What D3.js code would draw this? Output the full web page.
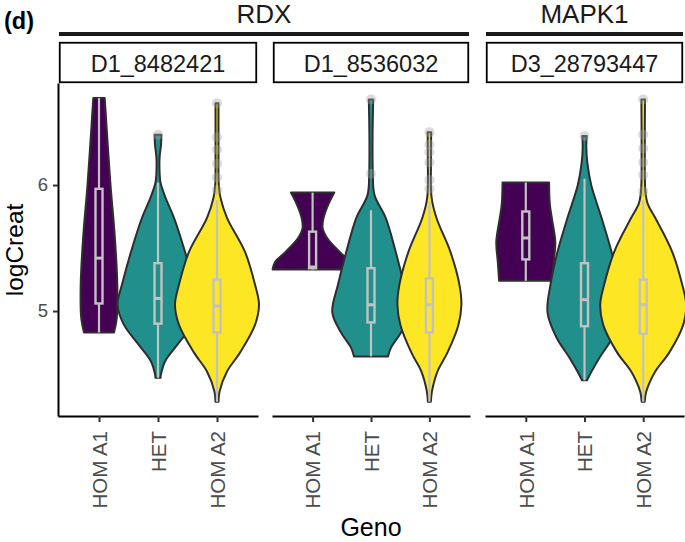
<!DOCTYPE html>
<html><head><meta charset="utf-8">
<script src="https://cdn.jsdelivr.net/npm/d3@7"></script>
<style>body{margin:0;background:#fff}svg{display:block}text{font-family:"Liberation Sans",Arial,sans-serif}</style>
</head><body><svg id="c" width="685" height="542"></svg>
<script>
// ---------- data ----------
const genes = ["RDX", "MAPK1"];
const snps = ["D1_8482421", "D1_8536032", "D3_28793447"];
const snpGene = ["RDX", "RDX", "MAPK1"];
const genos = ["HOM A1", "HET", "HOM A2"];
const genoColors = ["#440154", "#21908C", "#FDE725"];
const yTicks = [5, 6];

// violin density profiles: [logCreat, density] (top to bottom)
const dens_s1_A1 = [[6.69,5.7],[6.35,8.5],[6.0,11.5],[5.6,15.7],[5.21,18.3],[4.94,17.7],[4.83,15]];
const dens_s1_HET = [[6.40,3.4],[6.32,3.0],[6.22,1.6],[6.1,1.6],[6.02,2.5],[5.9,7.5],[5.74,16],[5.47,27],[5.21,36],[5.05,40.5],[4.89,34],[4.73,19],[4.60,7],[4.50,3],[4.47,2.5]];
const dens_s1_A2 = [[6.65,1.5],[6.3,1.5],[6.0,1.8],[5.90,3.5],[5.74,10],[5.47,28],[5.21,38],[5.05,42],[4.89,38],[4.67,23],[4.52,10],[4.36,2.5],[4.28,1.5]];
const dens_s2_A1 = [[5.94,21.7],[5.85,16],[5.74,11],[5.66,10],[5.58,14.5],[5.47,27],[5.39,37.5],[5.33,40]];
const dens_s2_HET = [[6.68,2.2],[6.4,1.6],[6.1,1.8],[5.92,3.5],[5.74,14.7],[5.47,24.7],[5.21,33],[4.99,38.7],[4.83,30],[4.71,20],[4.64,17]];
const dens_s2_A2 = [[6.42,1.8],[6.2,1.6],[5.90,2.2],[5.74,7],[5.47,21],[5.21,30],[5.05,32],[4.89,29],[4.67,18],[4.52,8],[4.36,2.5],[4.28,1.5]];
const dens_s3_A1 = [[6.02,23.3],[5.85,24],[5.74,26],[5.55,29.5],[5.39,28],[5.24,26.7]];
const dens_s3_HET = [[6.39,2.2],[6.3,1.8],[6.18,2.8],[6.0,6.7],[5.74,17],[5.47,27],[5.21,34],[4.99,37],[4.79,28],[4.63,15],[4.52,7],[4.45,2.5]];
const dens_s3_A2 = [[6.68,1.8],[6.3,1.6],[5.95,2.2],[5.85,4.5],[5.74,12],[5.47,29],[5.21,39],[5.05,43],[4.89,40],[4.67,26],[4.52,12],[4.36,3],[4.28,1.5]];

// box stats: [whiskerLow, q1, median, q3, whiskerHigh]
const box_s1 = [[4.83,5.06,5.42,5.97,6.69],[4.47,4.90,5.10,5.38,6.02],[4.28,4.83,5.04,5.25,5.88]];
const box_s2 = [[5.33,5.34,5.35,5.63,5.94],[4.64,4.91,5.05,5.34,5.80],[4.28,4.83,5.05,5.26,5.87]];
const box_s3 = [[5.24,5.41,5.58,5.79,6.02],[4.45,4.88,5.09,5.38,6.05],[4.28,4.82,5.05,5.25,5.88]];

// outliers
const out_s1 = [[],[6.40],[6.65,6.38,6.28,6.17,6.06,5.96]];
const out_s2 = [[],[6.68,6.09],[6.42,6.32,6.26,6.18,6.04,5.97]];
const out_s3 = [[],[6.39],[6.68,6.40,6.29,6.18,6.08,5.95]];

const densities = [[dens_s1_A1,dens_s1_HET,dens_s1_A2],[dens_s2_A1,dens_s2_HET,dens_s2_A2],[dens_s3_A1,dens_s3_HET,dens_s3_A2]];
const boxes = [box_s1, box_s2, box_s3];
const outliers = [out_s1, out_s2, out_s3];

// ---------- layout ----------
const svg = d3.select("#c");
const panelX = [[58,258],[272,470],[485,684]];
const plotTop = 83, plotBottom = 416;
const y = d3.scaleLinear().domain([4.167, 6.81]).range([plotBottom, plotTop]);
const wScale = d3.scaleLinear().domain([0, 43]).range([0, 43]);
const color = d3.scaleOrdinal().domain(genos).range(genoColors);
const boxHalf = 3.5;
const boxGrey = "#c2c2c2";

// title "(d)"
svg.append("text").attr("x",4).attr("y",28.5).attr("font-size",23.5).attr("font-weight","bold").text("(d)");

// gene headers
genes.forEach(g => {
  const idx = snpGene.map((s,i)=>s===g?i:-1).filter(i=>i>=0);
  const x0 = panelX[idx[0]][0]+1, x1 = panelX[idx[idx.length-1]][1]-1;
  svg.append("rect").attr("x",x0).attr("y",32).attr("width",x1-x0).attr("height",4).attr("fill","#1a1a1a");
  svg.append("text").attr("x",(x0+x1)/2).attr("y",23).attr("text-anchor","middle").attr("font-size",26).attr("fill","#1a1a1a").text(g);
});

snps.forEach((s, i) => {
  const [px0, px1] = panelX[i];
  const x = d3.scalePoint().domain(genos).range([px0, px1]).padding(0.695);
  // strip
  svg.append("rect").attr("x",px0+1.75).attr("y",42.75).attr("width",px1-px0-3.5).attr("height",39.5)
    .attr("fill","#fff").attr("stroke","#000").attr("stroke-width",1.8);
  svg.append("text").attr("x",(px0+px1)/2).attr("y",71.5).attr("text-anchor","middle").attr("font-size",23.5).attr("fill","#1a1a1a").text(s);

  const g = svg.append("g");
  genos.forEach((geno, j) => {
    const cx = x(geno);
    const prof = densities[i][j];
    const area = d3.area().curve(d3.curveCatmullRom.alpha(0.5))
      .y(d => y(d[0])).x0(d => cx - wScale(d[1])).x1(d => cx + wScale(d[1]));
    g.append("path").attr("d", area(prof)).attr("fill", color(geno))
      .attr("stroke","#2e2e2e").attr("stroke-width",2).attr("stroke-linejoin","round");
  });
  genos.forEach((geno, j) => {
    const cx = x(geno);
    const b = boxes[i][j];
    g.append("line").attr("x1",cx).attr("x2",cx).attr("y1",y(b[0])).attr("y2",y(b[1])).attr("stroke",boxGrey).attr("stroke-width",2.2);
    g.append("line").attr("x1",cx).attr("x2",cx).attr("y1",y(b[3])).attr("y2",y(b[4])).attr("stroke",boxGrey).attr("stroke-width",2.2);
    g.append("rect").attr("x",cx-boxHalf).attr("y",y(b[3])).attr("width",boxHalf*2).attr("height",y(b[1])-y(b[3]))
      .attr("fill","none").attr("stroke",boxGrey).attr("stroke-width",2.4);
    g.append("line").attr("x1",cx-boxHalf).attr("x2",cx+boxHalf).attr("y1",y(b[2])).attr("y2",y(b[2])).attr("stroke",boxGrey).attr("stroke-width",3);
    outliers[i][j].forEach(v => {
      g.append("circle").attr("cx",cx).attr("cy",y(v)).attr("r",5).attr("fill","#a0a0a0").attr("fill-opacity",0.38);
    });
  });

  // x axis
  const xa = svg.append("g").attr("transform",`translate(0,${plotBottom})`)
    .call(d3.axisBottom(x).tickSize(6).tickSizeOuter(0).tickPadding(0));
  xa.select(".domain").attr("stroke","#000").attr("stroke-width",2);
  xa.selectAll(".tick line").attr("stroke","#333").attr("stroke-width",2);
  xa.selectAll(".tick text").attr("font-size",20.5).attr("fill","#4d4d4d")
    .attr("font-family",'"Liberation Sans",Arial,sans-serif')
    .attr("text-anchor","end").attr("transform","translate(0,15) rotate(-90)").attr("x",0).attr("y",0).attr("dy","0.36em");

  if (i === 0) {
    const ya = svg.append("g").attr("transform",`translate(${px0},0)`)
      .call(d3.axisLeft(y).tickValues(yTicks).tickFormat(d3.format("d")).tickSize(5).tickSizeOuter(0).tickPadding(5));
    ya.select(".domain").attr("stroke","#000").attr("stroke-width",2);
    ya.selectAll(".tick line").attr("stroke","#333").attr("stroke-width",2);
    ya.selectAll(".tick text").attr("font-size",18.5).attr("fill","#4d4d4d").attr("font-family",'"Liberation Sans",Arial,sans-serif');
  }
});

// axis titles
svg.append("text").attr("x",371).attr("y",536).attr("text-anchor","middle").attr("font-size",25).text("Geno");
svg.append("text").attr("transform","translate(23,250) rotate(-90)").attr("text-anchor","middle").attr("font-size",24.5).text("logCreat");
</script></body></html>
